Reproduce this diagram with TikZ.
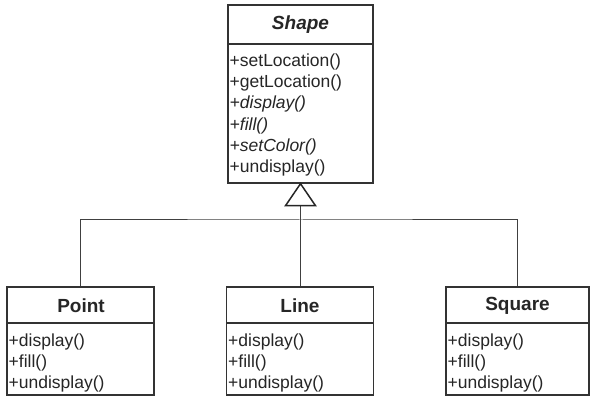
\documentclass[tikz,border=0pt]{standalone}
\usepackage{fontspec}
\setmainfont{Liberation Sans}
\begin{document}
\begin{tikzpicture}[x=1pt,y=-1pt,
  box/.style={draw=black!80, line width=1.4pt, inner sep=0pt},
  hdr/.style={draw=black!80, line width=1.2pt},
  title/.style={font=\fontsize{19}{22}\selectfont\bfseries, text=black!85},
  meth/.style={anchor=base west, inner sep=0pt, font=\fontsize{17.5}{20}\selectfont, text=black!85},
  imeth/.style={meth, font=\fontsize{17.5}{20}\selectfont\itshape},
  conn/.style={draw=black!75, line width=1pt},
  inh/.style={draw=black!85, line width=1.5pt, fill=white}]
\useasboundingbox (0,0) rectangle (590,398);
\fill[white] (0,0) rectangle (590,398);
% Shape
\node[box, minimum width=145pt, minimum height=178pt] (shape) at (300.5,94) {};
\draw[hdr] (228,44) -- (373,44);
\node[title, font=\fontsize{19}{22}\selectfont\bfseries\itshape] (shapet) at (300.5,25) {Shape};
\node[meth] (s1) at (229.5,67) {+setLocation()};
\node[meth] (s2) at (229.5,88) {+getLocation()};
\node[imeth] (s3) at (229.5,109) {+display()};
\node[imeth] (s4) at (229.5,131) {+fill()};
\node[imeth] (s5) at (229.5,152) {+setColor()};
\node[meth] (s6) at (229.5,173) {+undisplay()};
% Point
\node[box, minimum width=147pt, minimum height=108pt] (point) at (80.5,341) {};
\draw[hdr] (7,323) -- (154,323);
\node[title] (pointt) at (81,306) {Point};
\node[meth] (p1) at (8.5,347) {+display()};
\node[meth] (p2) at (8.5,368) {+fill()};
\node[meth] (p3) at (8.5,389) {+undisplay()};
% Line
\node[box, minimum width=147pt, minimum height=108pt] (line) at (300,341) {};
\draw[hdr] (226.5,323) -- (373.5,323);
\node[title] (linet) at (300,306) {Line};
\node[meth] (l1) at (228,347) {+display()};
\node[meth] (l2) at (228,368) {+fill()};
\node[meth] (l3) at (228,389) {+undisplay()};
% Square
\node[box, minimum width=143pt, minimum height=108pt] (square) at (517.5,341) {};
\draw[hdr] (446,323) -- (589,323);
\node[title] (squaret) at (517.5,306) {Square};
\node[meth] (q1) at (447.5,347) {+display()};
\node[meth] (q2) at (447.5,368) {+fill()};
\node[meth] (q3) at (447.5,389) {+undisplay()};
% connectors
\coordinate (tip) at (shape.south);
\coordinate (tbase) at (301,205);
\coordinate (bar) at (301,220);
\draw[conn] (point.north) |- (bar) -| (square.north);
\draw[conn] (line.north) -- (line.north |- tbase);
\draw[inh] (tip) -- ++(-15,22) -- ++(30,0) -- cycle;
\end{tikzpicture}
\end{document}
